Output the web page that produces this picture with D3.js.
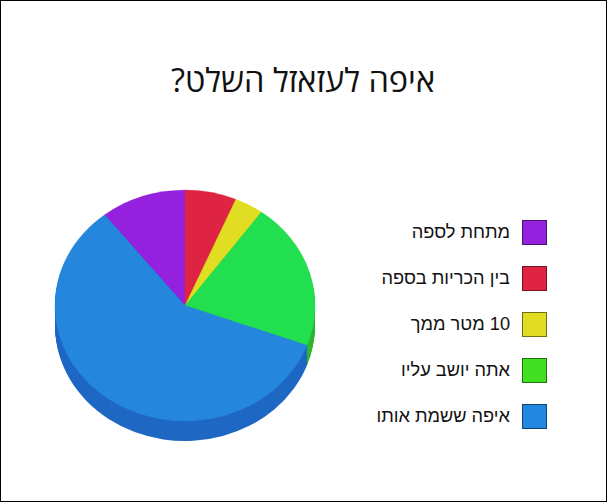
<!DOCTYPE html>
<html lang="he">
<head>
<meta charset="utf-8">
<script src="https://cdnjs.cloudflare.com/ajax/libs/d3/7.8.5/d3.min.js"></script>
<style>
html, body { margin: 0; padding: 0; background: #fff; }
svg { display: block; }
</style>
</head>
<body>
<div id="chart"></div>
<script>
const title = "איפה לעזאזל השלט?";
const labels = ["מתחת לספה", "בין הכריות בספה", "10 מטר ממך", "אתה יושב עליו", "איפה ששמת אותו"];
const values = [10.6, 6.4, 3.6, 20.6, 58.8];
const sliceColors = ["#9321DD", "#DF2342", "#E0DD22", "#22DF4F", "#2487DD"];
const sideColors = ["#7419B0", "#B21C35", "#B3B11B", "#2FB52F", "#1F68C4"];
const legendColors = ["#9321DD", "#DF2342", "#E0DD22", "#42DF22", "#2287DF"];
const legendStroke = ["#4A116F", "#701222", "#706F11", "#216F11", "#114470"];

const width = 607, height = 502;
const cx = 185, cy = 305.5, rx = 130, ry = 115.5, depth = 20;

const svg = d3.select("#chart")
    .append("svg")
    .attr("width", width)
    .attr("height", height);

svg.append("rect")
    .attr("x", 0.5)
    .attr("y", 0.5)
    .attr("width", width - 1)
    .attr("height", height - 1)
    .attr("fill", "#fff")
    .attr("stroke", "#000");

svg.append("text")
    .attr("x", 435)
    .attr("y", 92)
    .attr("direction", "rtl")
    .attr("text-anchor", "start")
    .attr("font-family", "'Open Sans', sans-serif")
    .attr("font-size", 32.5)
    .attr("fill", "#111")
    .text(title);

// the pie starts at the purple slice, left of 12 o'clock
const start = -values[0] / d3.sum(values) * 2 * Math.PI;
const pie = d3.pie().sort(null).startAngle(start).endAngle(start + 2 * Math.PI);
const arcs = pie(values);
const arc = d3.arc().innerRadius(0).outerRadius(rx);

// side wall: darker copies stacked from the bottom up
const side = svg.append("g");
d3.range(depth, 0, -1).forEach(off => {
    side.append("g")
        .attr("transform", `translate(${cx},${cy + off}) scale(1,${ry / rx})`)
        .selectAll("path")
        .data(arcs)
        .join("path")
        .attr("d", arc)
        .attr("fill", (d, i) => sideColors[i]);
});

svg.append("g")
    .attr("transform", `translate(${cx},${cy}) scale(1,${ry / rx})`)
    .selectAll("path")
    .data(arcs)
    .join("path")
    .attr("d", arc)
    .attr("fill", (d, i) => sliceColors[i])
    .attr("stroke", (d, i) => sliceColors[i])
    .attr("stroke-width", 0.3);

// legend
const y = d3.scalePoint().domain(labels).range([232.5, 416.5]);

const legend = svg.append("g")
    .selectAll("g")
    .data(labels)
    .join("g")
    .attr("transform", d => `translate(0,${y(d)})`);

legend.append("rect")
    .attr("x", 522.5)
    .attr("y", -12)
    .attr("width", 24)
    .attr("height", 24)
    .attr("fill", (d, i) => legendColors[i])
    .attr("stroke", (d, i) => legendStroke[i]);

legend.append("text")
    .attr("x", 510)
    .attr("y", 5.5)
    .attr("direction", "rtl")
    .attr("text-anchor", "start")
    .attr("font-family", "'Liberation Sans', Arial, sans-serif")
    .attr("font-size", 18.2)
    .attr("fill", "#111")
    .text(d => d);
</script>
</body>
</html>
